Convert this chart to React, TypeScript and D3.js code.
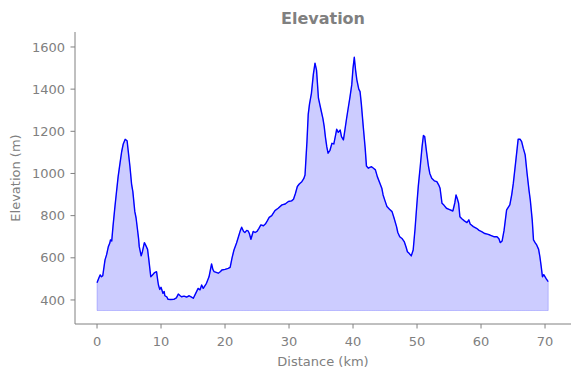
import React from "react";
import * as d3 from "d3";

const distanceKm = [
  0.0, 0.3, 0.5, 0.7, 0.9, 1.25, 1.5, 1.77, 2.0, 2.1, 2.3, 2.5, 2.8, 3.0, 3.3, 3.6, 3.85, 4.1, 4.4, 4.7,
  4.9, 5.15, 5.4, 5.6, 5.9, 6.1, 6.3, 6.5, 6.6, 6.9, 7.1, 7.4, 7.6, 7.9, 8.1, 8.4, 8.7, 9.0, 9.3, 9.5,
  9.6, 9.8, 10.0, 10.3, 10.5, 10.6, 10.9, 11.1, 11.5, 12.0, 12.4, 12.7, 13.0, 13.2, 13.6, 14.0, 14.4, 14.7, 15.05, 15.4,
  15.8, 16.1, 16.35, 16.6, 17.1, 17.5, 17.9, 18.1, 18.3, 18.95, 19.3, 19.5, 20.0, 20.5, 20.8, 21.1, 21.4, 21.8, 22.1, 22.4,
  22.6, 22.9, 23.1, 23.4, 23.6, 23.8, 24.05, 24.4, 24.7, 25.0, 25.3, 25.6, 26.0, 26.3, 26.6, 26.9, 27.3, 27.8, 28.3, 28.9,
  29.4, 29.9, 30.4, 30.7, 31.0, 31.3, 31.6, 32.0, 32.3, 32.5, 32.8, 33.0, 33.2, 33.5, 33.8, 34.06, 34.3, 34.6, 35.0, 35.3,
  35.5, 35.7, 35.9, 36.1, 36.4, 36.7, 37.0, 37.3, 37.45, 37.7, 38.0, 38.2, 38.5, 38.7, 39.0, 39.3, 39.5, 39.8, 40.0, 40.2,
  40.4, 40.6, 40.9, 41.1, 41.3, 41.6, 41.9, 42.1, 42.4, 42.7, 42.9, 43.2, 43.5, 43.8, 44.2, 44.5, 44.7, 45.0, 45.3, 45.7,
  46.1, 46.4, 46.8, 47.0, 47.3, 47.7, 48.0, 48.3, 48.5, 48.8, 49.1, 49.4, 49.7, 49.95, 50.2, 50.5, 50.8, 51.0, 51.2, 51.5,
  51.8, 52.0, 52.3, 52.7, 53.1, 53.4, 53.6, 53.9, 54.2, 54.6, 55.0, 55.6, 55.9, 56.1, 56.3, 56.5, 56.7, 57.0, 57.4, 57.8,
  58.1, 58.3, 58.8, 59.3, 59.7, 60.1, 60.6, 61.0, 61.4, 62.0, 62.5, 62.8, 63.0, 63.3, 63.6, 64.0, 64.5, 64.8, 65.05, 65.4,
  65.8, 66.1, 66.35, 66.6, 66.9, 67.2, 67.5, 67.7, 68.0, 68.2, 68.5, 68.7, 69.0, 69.2, 69.4, 69.6, 69.8, 69.9, 70.2, 70.5,
];

const elevationM = [
  482, 505, 519, 510, 515, 590, 615, 653, 670, 685, 680, 750, 843, 900, 985, 1050, 1103, 1140, 1162, 1155,
  1100, 1032, 950, 914, 820, 790, 740, 690, 653, 609, 630, 672, 660, 640, 590, 510, 520, 530, 534, 490,
  471, 450, 460, 432, 440, 420, 415, 403, 402, 403, 410, 428, 420, 415, 418, 414, 420, 415, 408, 430,
  455, 448, 471, 455, 479, 510, 571, 545, 534, 527, 535, 542, 545, 550, 555, 600, 637, 670, 700, 730,
  745, 725, 720, 730, 728, 715, 688, 725, 720, 725, 740, 756, 752, 760, 775, 792, 800, 824, 835, 851,
  855, 867, 870, 878, 905, 938, 950, 961, 975, 993, 1150, 1280, 1329, 1380, 1470, 1523, 1490, 1357, 1301, 1260,
  1222, 1170, 1127, 1096, 1110, 1143, 1140, 1185, 1210, 1195, 1206, 1175, 1159, 1200, 1262, 1320, 1357, 1420, 1500, 1551,
  1490, 1444, 1400, 1388, 1330, 1222, 1120, 1035, 1025, 1030, 1032, 1025, 1017, 985, 954, 930, 898, 870, 843, 830,
  819, 790, 748, 720, 700, 690, 677, 650, 629, 620, 609, 637, 740, 843, 940, 1032, 1130, 1180, 1175, 1100,
  1032, 1000, 977, 965, 961, 945, 930, 859, 850, 835, 830, 822, 860, 898, 880, 859, 795, 785, 775, 767,
  780, 760, 748, 740, 730, 724, 715, 712, 708, 700, 700, 690, 672, 680, 730, 827, 851, 900, 954, 1050,
  1162, 1163, 1151, 1120, 1088, 1000, 920, 874, 780, 685, 670, 661, 640, 605, 560, 510, 520, 515, 500, 487,
];

const xTicks = [0, 10, 20, 30, 40, 50, 60, 70];
const yTicks = [400, 600, 800, 1000, 1200, 1400, 1600];
const fillBase = 350;

const W = 580;
const H = 378;
const left = 75;
const right = 571;
const top = 32;
const bottom = 324;

export default function App() {
  const x = d3.scaleLinear().domain([-3.44, 74.06]).range([left, right]);
  const y = d3.scaleLinear().domain([286, 1671]).range([bottom, top]);
  const pts = distanceKm.map((d, i) => [d, elevationM[i]] as [number, number]);
  const area = d3
    .area<[number, number]>()
    .x((d) => x(d[0]))
    .y0(y(fillBase))
    .y1((d) => y(d[1]));
  const line = d3
    .line<[number, number]>()
    .x((d) => x(d[0]))
    .y((d) => y(d[1]));
  const grey = "#808080";
  const font = "DejaVu Sans, sans-serif";
  return (
    <svg
      width={W}
      height={H}
      style={{ position: "absolute", left: 0, top: 0, background: "#fff" }}
      fontFamily={font}
    >
      <path d={area(pts) || ""} fill="rgba(0,0,255,0.2)" stroke="rgba(0,0,255,0.2)" strokeWidth={1} />
      <path d={line(pts) || ""} fill="none" stroke="#0000ff" strokeWidth={1.4} strokeLinejoin="round" />
      <line x1={left} x2={left} y1={top} y2={bottom} stroke={grey} strokeWidth={1} />
      <line x1={left} x2={right} y1={bottom} y2={bottom} stroke={grey} strokeWidth={1} />
      {yTicks.map((t) => (
        <g key={"y" + t}>
          <line x1={left - 4.5} x2={left} y1={y(t)} y2={y(t)} stroke={grey} strokeWidth={1} />
          <text x={left - 10} y={y(t)} dy="0.36em" textAnchor="end" fontSize={13} fill={grey}>
            {t}
          </text>
        </g>
      ))}
      {xTicks.map((t) => (
        <g key={"x" + t}>
          <line x1={x(t)} x2={x(t)} y1={bottom} y2={bottom + 4.5} stroke={grey} strokeWidth={1} />
          <text x={x(t)} y={bottom + 22} textAnchor="middle" fontSize={13} fill={grey}>
            {t}
          </text>
        </g>
      ))}
      <text x={(left + right) / 2} y={366} textAnchor="middle" fontSize={13} fill={grey}>
        Distance (km)
      </text>
      <text
        transform={`translate(20,${(top + bottom) / 2}) rotate(-90)`}
        textAnchor="middle"
        fontSize={13}
        fill={grey}
      >
        Elevation (m)
      </text>
      <text x={(left + right) / 2} y={24} textAnchor="middle" fontSize={16} fontWeight="bold" fill={grey}>
        Elevation
      </text>
    </svg>
  );
}
